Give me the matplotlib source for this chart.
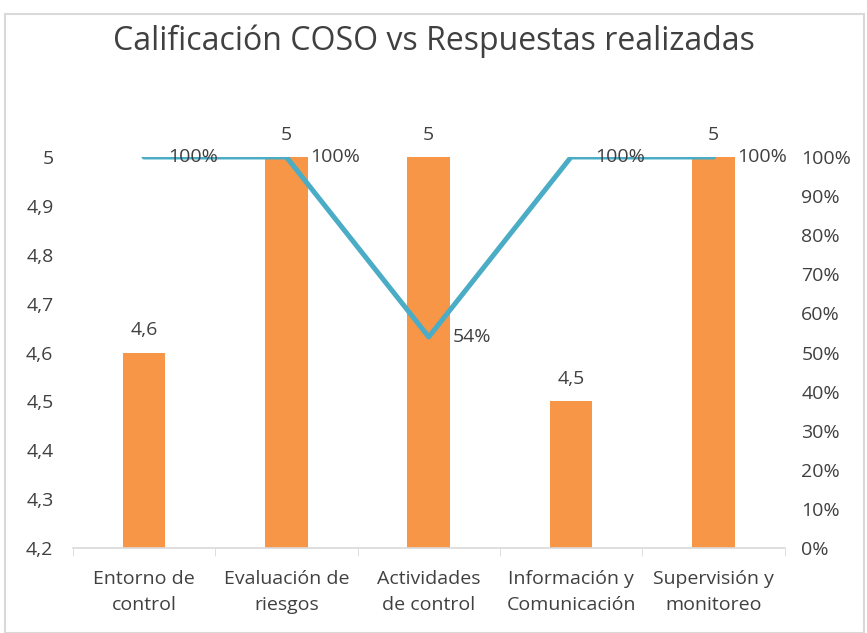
import matplotlib.pyplot as plt
from matplotlib.patches import Rectangle
from matplotlib.ticker import FixedLocator

# Data
categories = ['Entorno de\ncontrol', 'Evaluación de\nriesgos', 'Actividades\nde control',
              'Información y\nComunicación', 'Supervisión y\nmonitoreo']
calificacion = [4.6, 5, 5, 4.5, 5]
respuestas = [1.00, 1.00, 0.54, 1.00, 1.00]
left_ticks = [4.2, 4.3, 4.4, 4.5, 4.6, 4.7, 4.8, 4.9, 5.0]
right_ticks = [0, 0.1, 0.2, 0.3, 0.4, 0.5, 0.6, 0.7, 0.8, 0.9, 1.0]

bar_color = '#F79646'
line_color = '#4BACC6'
text_color = '#404040'
plt.rcParams['font.family'] = ['Open Sans', 'DejaVu Sans']

fig = plt.figure(figsize=(8.67, 6.33), dpi=100)
fig.patches.append(Rectangle((0.006, 0.0), 0.99, 0.978, transform=fig.transFigure,
                             fill=False, edgecolor='#D9D9D9', linewidth=1.5))

ax = fig.add_axes([0.084, 0.134, 0.821, 0.618])
x = list(range(len(categories)))
ax.bar(x, calificacion, width=0.3, color=bar_color, zorder=2)
ax.set_ylim(4.2, 5.0)
ax.set_xlim(-0.5, len(categories) - 0.5)
ax.set_yticks(left_ticks)
ax.set_yticklabels([f'{v:g}'.replace('.', ',') for v in left_ticks])
ax.set_xticks(x)
ax.set_xticklabels(categories, linespacing=1.55)
ax.xaxis.set_minor_locator(FixedLocator([i - 0.5 for i in range(len(categories) + 1)]))
ax.tick_params(axis='x', which='major', length=0, pad=16, labelsize=14, colors=text_color)
ax.tick_params(axis='x', which='minor', length=6, color='#D9D9D9', direction='out')
ax.tick_params(axis='y', length=0, labelsize=14, colors=text_color, pad=14)
for s in ['top', 'left', 'right']:
    ax.spines[s].set_visible(False)
ax.spines['bottom'].set_color('#D9D9D9')
ax.spines['bottom'].set_linewidth(1.2)

for xi, v in zip(x, calificacion):
    ax.text(xi, v + 0.027, f'{v:g}'.replace('.', ','), ha='center', va='bottom',
            fontsize=14, color=text_color, clip_on=False)

ax2 = ax.twinx()
ax2.plot(x, respuestas, color=line_color, linewidth=3.6, solid_capstyle='round', zorder=3)
ax2.set_ylim(0, 1.0)
ax2.set_yticks(right_ticks)
ax2.set_yticklabels([f'{int(round(v * 100))}%' for v in right_ticks])
ax2.tick_params(axis='y', length=0, labelsize=14, colors=text_color, pad=12)
for s in ['top', 'left', 'right', 'bottom']:
    ax2.spines[s].set_visible(False)

for xi, v in zip(x, respuestas):
    ax2.text(xi + 0.17, v, f'{int(round(v * 100))}%', ha='left', va='center',
             fontsize=14, color=text_color, clip_on=False)

fig.text(0.5, 0.935, 'Calificación COSO vs Respuestas realizadas', ha='center', va='center',
         fontsize=23, color=text_color)

fig.savefig('out.png', dpi=100)
